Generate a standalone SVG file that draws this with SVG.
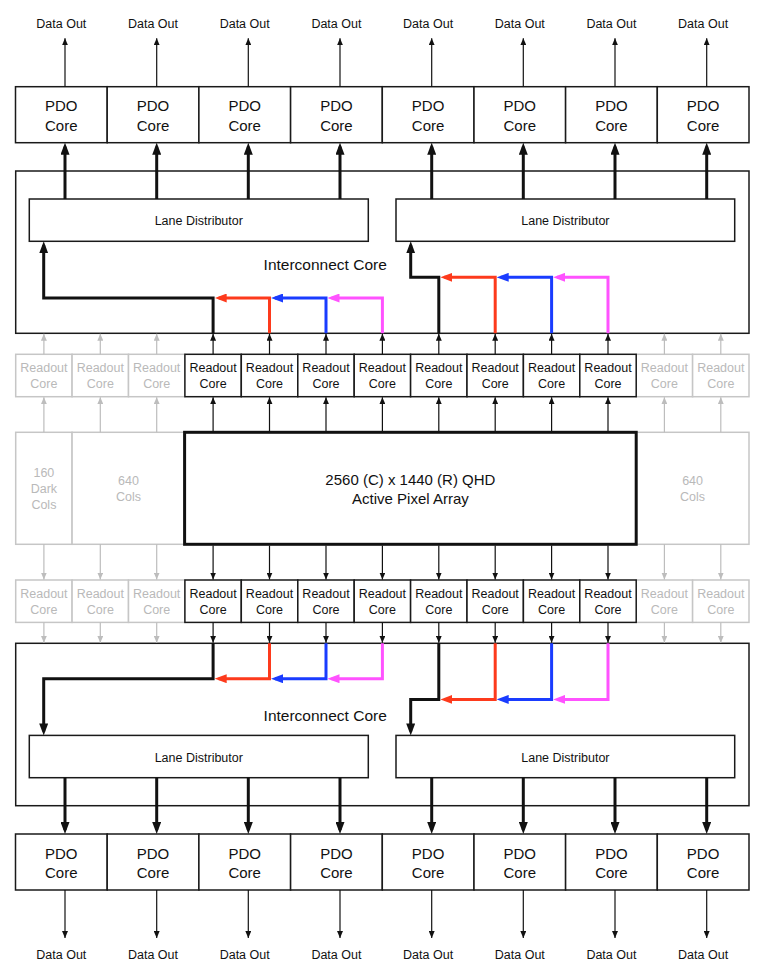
<svg xmlns="http://www.w3.org/2000/svg" width="770" height="975" viewBox="0 0 770 975">
<style>
text{font-family:"Liberation Sans",Arial,Helvetica,sans-serif;fill:#111;text-anchor:middle}
.box{fill:#fff;stroke:#1a1a1a;stroke-width:1.5}
.gbox{fill:#fff;stroke:#c6c6c6;stroke-width:1.5}
.arr{fill:#fff;stroke:#111;stroke-width:3}
.t15{font-size:15px}
.t12{font-size:12.5px}
.t16{font-size:15.5px}
.g{fill:#b9b9b9}
.thin{stroke:#111;stroke-width:1.2;fill:none;marker-end:url(#mThin)}
.gthin{stroke:#bdbdbd;stroke-width:1.2;fill:none;marker-end:url(#mGray)}
.thick{stroke:#111;stroke-width:3;fill:none;marker-end:url(#mThick)}
.route{fill:none;stroke-width:3;stroke-linejoin:miter}
</style>
<defs>
<marker id="mThin" markerUnits="userSpaceOnUse" markerWidth="7" markerHeight="6" viewBox="0 0 7 6" refX="7" refY="3" orient="auto"><path d="M0,0 L7,3 L0,6 z" fill="#111"/></marker>
<marker id="mGray" markerUnits="userSpaceOnUse" markerWidth="7" markerHeight="6" viewBox="0 0 7 6" refX="7" refY="3" orient="auto"><path d="M0,0 L7,3 L0,6 z" fill="#bdbdbd"/></marker>
<marker id="mThick" markerUnits="userSpaceOnUse" markerWidth="12" markerHeight="9" viewBox="0 0 12 9" refX="8" refY="4.5" orient="auto"><path d="M0,0 L12,4.5 L0,9 z" fill="#111"/></marker>
<marker id="mRed" markerUnits="userSpaceOnUse" markerWidth="12" markerHeight="9" viewBox="0 0 12 9" refX="8" refY="4.5" orient="auto"><path d="M0,0 L12,4.5 L0,9 z" fill="#fd3a1c"/></marker>
<marker id="mBlue" markerUnits="userSpaceOnUse" markerWidth="12" markerHeight="9" viewBox="0 0 12 9" refX="8" refY="4.5" orient="auto"><path d="M0,0 L12,4.5 L0,9 z" fill="#1a3cff"/></marker>
<marker id="mMag" markerUnits="userSpaceOnUse" markerWidth="12" markerHeight="9" viewBox="0 0 12 9" refX="8" refY="4.5" orient="auto"><path d="M0,0 L12,4.5 L0,9 z" fill="#ff52ff"/></marker>
</defs>
<rect width="770" height="975" fill="#fff"/>

<!-- Top Data Out labels -->
<g id="dataout-top">
<text class="t12" x="61.3" y="28">Data Out</text>
<text class="t12" x="153" y="28">Data Out</text>
<text class="t12" x="244.7" y="28">Data Out</text>
<text class="t12" x="336.4" y="28">Data Out</text>
<text class="t12" x="428.1" y="28">Data Out</text>
<text class="t12" x="519.8" y="28">Data Out</text>
<text class="t12" x="611.4" y="28">Data Out</text>
<text class="t12" x="703.1" y="28">Data Out</text>
</g>

<!-- Top PDO cores -->
<g id="pdo-top">
<rect class="box" x="15.5" y="86.7" width="91.7" height="56"/>
<rect class="box" x="107.2" y="86.7" width="91.7" height="56"/>
<rect class="box" x="198.9" y="86.7" width="91.7" height="56"/>
<rect class="box" x="290.6" y="86.7" width="91.7" height="56"/>
<rect class="box" x="382.3" y="86.7" width="91.7" height="56"/>
<rect class="box" x="474" y="86.7" width="91.6" height="56"/>
<rect class="box" x="565.6" y="86.7" width="91.7" height="56"/>
<rect class="box" x="657.3" y="86.7" width="91.7" height="56"/>
<g class="t15">
<text x="61.3" y="111.2">PDO</text><text x="61.3" y="130.6">Core</text>
<text x="153" y="111.2">PDO</text><text x="153" y="130.6">Core</text>
<text x="244.7" y="111.2">PDO</text><text x="244.7" y="130.6">Core</text>
<text x="336.4" y="111.2">PDO</text><text x="336.4" y="130.6">Core</text>
<text x="428.1" y="111.2">PDO</text><text x="428.1" y="130.6">Core</text>
<text x="519.8" y="111.2">PDO</text><text x="519.8" y="130.6">Core</text>
<text x="611.4" y="111.2">PDO</text><text x="611.4" y="130.6">Core</text>
<text x="703.1" y="111.2">PDO</text><text x="703.1" y="130.6">Core</text>
</g>
</g>

<!-- Top interconnect core -->
<g id="interconnect-top">
<rect class="box" x="15.7" y="171" width="733.3" height="162.3"/>
<text class="t16" x="325.2" y="269.5">Interconnect Core</text>
</g>
<g id="lane-top-left">
<rect class="box" x="29.3" y="199" width="339" height="42.3"/>
<text class="t12" x="198.8" y="225">Lane Distributor</text>
</g>
<g id="lane-top-right">
<rect class="box" x="396" y="199" width="338.7" height="42.3"/>
<text class="t12" x="565.4" y="225">Lane Distributor</text>
</g>

<!-- Top readout cores -->
<g id="readout-top">
<rect class="gbox" x="15.7" y="354.3" width="56.4" height="42.4"/>
<rect class="gbox" x="72.1" y="354.3" width="56.4" height="42.4"/>
<rect class="gbox" x="128.5" y="354.3" width="56.4" height="42.4"/>
<rect class="gbox" x="636.2" y="354.3" width="56.4" height="42.4"/>
<rect class="gbox" x="692.6" y="354.3" width="56.4" height="42.4"/>
<rect class="box" x="184.9" y="354.3" width="56.4" height="42.4"/>
<rect class="box" x="241.3" y="354.3" width="56.5" height="42.4"/>
<rect class="box" x="297.8" y="354.3" width="56.4" height="42.4"/>
<rect class="box" x="354.2" y="354.3" width="56.4" height="42.4"/>
<rect class="box" x="410.6" y="354.3" width="56.4" height="42.4"/>
<rect class="box" x="467" y="354.3" width="56.4" height="42.4"/>
<rect class="box" x="523.4" y="354.3" width="56.4" height="42.4"/>
<rect class="box" x="579.8" y="354.3" width="56.4" height="42.4"/>
<g class="t12">
<text class="g" x="43.9" y="372.2">Readout</text><text class="g" x="43.9" y="388">Core</text>
<text class="g" x="100.3" y="372.2">Readout</text><text class="g" x="100.3" y="388">Core</text>
<text class="g" x="156.7" y="372.2">Readout</text><text class="g" x="156.7" y="388">Core</text>
<text x="213.1" y="372.2">Readout</text><text x="213.1" y="388">Core</text>
<text x="269.5" y="372.2">Readout</text><text x="269.5" y="388">Core</text>
<text x="326" y="372.2">Readout</text><text x="326" y="388">Core</text>
<text x="382.4" y="372.2">Readout</text><text x="382.4" y="388">Core</text>
<text x="438.8" y="372.2">Readout</text><text x="438.8" y="388">Core</text>
<text x="495.2" y="372.2">Readout</text><text x="495.2" y="388">Core</text>
<text x="551.6" y="372.2">Readout</text><text x="551.6" y="388">Core</text>
<text x="608" y="372.2">Readout</text><text x="608" y="388">Core</text>
<text class="g" x="664.4" y="372.2">Readout</text><text class="g" x="664.4" y="388">Core</text>
<text class="g" x="720.8" y="372.2">Readout</text><text class="g" x="720.8" y="388">Core</text>
</g>
</g>

<!-- Pixel array -->
<g id="dark-cols">
<rect class="gbox" x="15.7" y="432.3" width="56.4" height="112"/>
<g class="t12"><text class="g" x="43.9" y="477">160</text><text class="g" x="43.9" y="493.4">Dark</text><text class="g" x="43.9" y="509.4">Cols</text></g>
</g>
<g id="cols-left">
<rect class="gbox" x="72.1" y="432.3" width="112.8" height="112"/>
<g class="t12"><text class="g" x="128.5" y="485">640</text><text class="g" x="128.5" y="501">Cols</text></g>
</g>
<g id="cols-right">
<rect class="gbox" x="636.2" y="432.3" width="112.8" height="112"/>
<g class="t12"><text class="g" x="692.6" y="485">640</text><text class="g" x="692.6" y="501">Cols</text></g>
</g>
<g id="pixel-array">
<rect class="arr" x="184.6" y="432.3" width="451.6" height="112"/>
<text class="t15" x="410.4" y="485.3">2560 (C) x 1440 (R) QHD</text>
<text class="t15" x="410.4" y="504.3">Active Pixel Array</text>
</g>

<!-- Bottom readout cores -->
<g id="readout-bottom">
<rect class="gbox" x="15.7" y="580" width="56.4" height="42.4"/>
<rect class="gbox" x="72.1" y="580" width="56.4" height="42.4"/>
<rect class="gbox" x="128.5" y="580" width="56.4" height="42.4"/>
<rect class="gbox" x="636.2" y="580" width="56.4" height="42.4"/>
<rect class="gbox" x="692.6" y="580" width="56.4" height="42.4"/>
<rect class="box" x="184.9" y="580" width="56.4" height="42.4"/>
<rect class="box" x="241.3" y="580" width="56.5" height="42.4"/>
<rect class="box" x="297.8" y="580" width="56.4" height="42.4"/>
<rect class="box" x="354.2" y="580" width="56.4" height="42.4"/>
<rect class="box" x="410.6" y="580" width="56.4" height="42.4"/>
<rect class="box" x="467" y="580" width="56.4" height="42.4"/>
<rect class="box" x="523.4" y="580" width="56.4" height="42.4"/>
<rect class="box" x="579.8" y="580" width="56.4" height="42.4"/>
<g class="t12">
<text class="g" x="43.9" y="597.8">Readout</text><text class="g" x="43.9" y="613.6">Core</text>
<text class="g" x="100.3" y="597.8">Readout</text><text class="g" x="100.3" y="613.6">Core</text>
<text class="g" x="156.7" y="597.8">Readout</text><text class="g" x="156.7" y="613.6">Core</text>
<text x="213.1" y="597.8">Readout</text><text x="213.1" y="613.6">Core</text>
<text x="269.5" y="597.8">Readout</text><text x="269.5" y="613.6">Core</text>
<text x="326" y="597.8">Readout</text><text x="326" y="613.6">Core</text>
<text x="382.4" y="597.8">Readout</text><text x="382.4" y="613.6">Core</text>
<text x="438.8" y="597.8">Readout</text><text x="438.8" y="613.6">Core</text>
<text x="495.2" y="597.8">Readout</text><text x="495.2" y="613.6">Core</text>
<text x="551.6" y="597.8">Readout</text><text x="551.6" y="613.6">Core</text>
<text x="608" y="597.8">Readout</text><text x="608" y="613.6">Core</text>
<text class="g" x="664.4" y="597.8">Readout</text><text class="g" x="664.4" y="613.6">Core</text>
<text class="g" x="720.8" y="597.8">Readout</text><text class="g" x="720.8" y="613.6">Core</text>
</g>
</g>

<!-- Bottom interconnect core -->
<g id="interconnect-bottom">
<rect class="box" x="15.7" y="643.3" width="733.3" height="162.4"/>
<text class="t16" x="325.2" y="720.8">Interconnect Core</text>
</g>
<g id="lane-bottom-left">
<rect class="box" x="29.3" y="735.4" width="339" height="42.3"/>
<text class="t12" x="198.8" y="761.5">Lane Distributor</text>
</g>
<g id="lane-bottom-right">
<rect class="box" x="396" y="735.4" width="338.7" height="42.3"/>
<text class="t12" x="565.4" y="761.5">Lane Distributor</text>
</g>

<!-- Bottom PDO cores -->
<g id="pdo-bottom">
<rect class="box" x="15.5" y="834" width="91.7" height="56"/>
<rect class="box" x="107.2" y="834" width="91.7" height="56"/>
<rect class="box" x="198.9" y="834" width="91.7" height="56"/>
<rect class="box" x="290.6" y="834" width="91.7" height="56"/>
<rect class="box" x="382.3" y="834" width="91.7" height="56"/>
<rect class="box" x="474" y="834" width="91.6" height="56"/>
<rect class="box" x="565.6" y="834" width="91.7" height="56"/>
<rect class="box" x="657.3" y="834" width="91.7" height="56"/>
<g class="t15">
<text x="61.3" y="858.7">PDO</text><text x="61.3" y="878">Core</text>
<text x="153" y="858.7">PDO</text><text x="153" y="878">Core</text>
<text x="244.7" y="858.7">PDO</text><text x="244.7" y="878">Core</text>
<text x="336.4" y="858.7">PDO</text><text x="336.4" y="878">Core</text>
<text x="428.1" y="858.7">PDO</text><text x="428.1" y="878">Core</text>
<text x="519.8" y="858.7">PDO</text><text x="519.8" y="878">Core</text>
<text x="611.4" y="858.7">PDO</text><text x="611.4" y="878">Core</text>
<text x="703.1" y="858.7">PDO</text><text x="703.1" y="878">Core</text>
</g>
</g>

<g id="dataout-bottom">
<text class="t12" x="61.3" y="958.8">Data Out</text>
<text class="t12" x="153" y="958.8">Data Out</text>
<text class="t12" x="244.7" y="958.8">Data Out</text>
<text class="t12" x="336.4" y="958.8">Data Out</text>
<text class="t12" x="428.1" y="958.8">Data Out</text>
<text class="t12" x="519.8" y="958.8">Data Out</text>
<text class="t12" x="611.4" y="958.8">Data Out</text>
<text class="t12" x="703.1" y="958.8">Data Out</text>
</g>

<!-- Connectors -->
<g id="connectors">
<!-- PDO -> Data Out (top) -->
<path class="thin" d="M65,86.7 V38.3"/>
<path class="thin" d="M156.7,86.7 V38.3"/>
<path class="thin" d="M248.3,86.7 V38.3"/>
<path class="thin" d="M340,86.7 V38.3"/>
<path class="thin" d="M431.7,86.7 V38.3"/>
<path class="thin" d="M523.3,86.7 V38.3"/>
<path class="thin" d="M615,86.7 V38.3"/>
<path class="thin" d="M706.7,86.7 V38.3"/>
<!-- Lane -> PDO (top) -->
<path class="thick" d="M65,199 V146.7"/>
<path class="thick" d="M156.7,199 V146.7"/>
<path class="thick" d="M248.3,199 V146.7"/>
<path class="thick" d="M340,199 V146.7"/>
<path class="thick" d="M431.7,199 V146.7"/>
<path class="thick" d="M523.3,199 V146.7"/>
<path class="thick" d="M615,199 V146.7"/>
<path class="thick" d="M706.7,199 V146.7"/>
<!-- Top routing -->
<path class="route" stroke="#111" marker-end="url(#mThick)" d="M213.1,333.3 V298 H43.7 V245.3"/>
<path class="route" stroke="#fd3a1c" marker-end="url(#mRed)" d="M269.5,333.3 V298 H218.7"/>
<path class="route" stroke="#1a3cff" marker-end="url(#mBlue)" d="M326,333.3 V298 H275"/>
<path class="route" stroke="#ff52ff" marker-end="url(#mMag)" d="M382.4,333.3 V298 H331.5"/>
<path class="route" stroke="#111" marker-end="url(#mThick)" d="M438.8,333.3 V277.3 H410.7 V245.3"/>
<path class="route" stroke="#fd3a1c" marker-end="url(#mRed)" d="M495.2,333.3 V277.3 H444.4"/>
<path class="route" stroke="#1a3cff" marker-end="url(#mBlue)" d="M551.6,333.3 V277.3 H500.7"/>
<path class="route" stroke="#ff52ff" marker-end="url(#mMag)" d="M608,333.3 V277.3 H557.1"/>
<!-- Readout top -> interconnect -->
<path class="gthin" d="M43.9,354.3 V333.8"/>
<path class="gthin" d="M100.3,354.3 V333.8"/>
<path class="gthin" d="M156.7,354.3 V333.8"/>
<path class="thin" d="M213.1,354.3 V333.8"/>
<path class="thin" d="M269.5,354.3 V333.8"/>
<path class="thin" d="M326,354.3 V333.8"/>
<path class="thin" d="M382.4,354.3 V333.8"/>
<path class="thin" d="M438.8,354.3 V333.8"/>
<path class="thin" d="M495.2,354.3 V333.8"/>
<path class="thin" d="M551.6,354.3 V333.8"/>
<path class="thin" d="M608,354.3 V333.8"/>
<path class="gthin" d="M664.4,354.3 V333.8"/>
<path class="gthin" d="M720.8,354.3 V333.8"/>
<!-- Array -> readout top -->
<path class="gthin" d="M43.9,432.3 V397.2"/>
<path class="gthin" d="M100.3,432.3 V397.2"/>
<path class="gthin" d="M156.7,432.3 V397.2"/>
<path class="thin" d="M213.1,431 V397.2"/>
<path class="thin" d="M269.5,431 V397.2"/>
<path class="thin" d="M326,431 V397.2"/>
<path class="thin" d="M382.4,431 V397.2"/>
<path class="thin" d="M438.8,431 V397.2"/>
<path class="thin" d="M495.2,431 V397.2"/>
<path class="thin" d="M551.6,431 V397.2"/>
<path class="thin" d="M608,431 V397.2"/>
<path class="gthin" d="M664.4,432.3 V397.2"/>
<path class="gthin" d="M720.8,432.3 V397.2"/>
<!-- Array -> readout bottom -->
<path class="gthin" d="M43.9,544.3 V579.5"/>
<path class="gthin" d="M100.3,544.3 V579.5"/>
<path class="gthin" d="M156.7,544.3 V579.5"/>
<path class="thin" d="M213.1,545.6 V579.5"/>
<path class="thin" d="M269.5,545.6 V579.5"/>
<path class="thin" d="M326,545.6 V579.5"/>
<path class="thin" d="M382.4,545.6 V579.5"/>
<path class="thin" d="M438.8,545.6 V579.5"/>
<path class="thin" d="M495.2,545.6 V579.5"/>
<path class="thin" d="M551.6,545.6 V579.5"/>
<path class="thin" d="M608,545.6 V579.5"/>
<path class="gthin" d="M664.4,544.3 V579.5"/>
<path class="gthin" d="M720.8,544.3 V579.5"/>
<!-- Readout bottom -> interconnect -->
<path class="gthin" d="M43.9,622.4 V642.8"/>
<path class="gthin" d="M100.3,622.4 V642.8"/>
<path class="gthin" d="M156.7,622.4 V642.8"/>
<path class="thin" d="M213.1,622.4 V642.8"/>
<path class="thin" d="M269.5,622.4 V642.8"/>
<path class="thin" d="M326,622.4 V642.8"/>
<path class="thin" d="M382.4,622.4 V642.8"/>
<path class="thin" d="M438.8,622.4 V642.8"/>
<path class="thin" d="M495.2,622.4 V642.8"/>
<path class="thin" d="M551.6,622.4 V642.8"/>
<path class="thin" d="M608,622.4 V642.8"/>
<path class="gthin" d="M664.4,622.4 V642.8"/>
<path class="gthin" d="M720.8,622.4 V642.8"/>
<!-- Bottom routing -->
<path class="route" stroke="#111" marker-end="url(#mThick)" d="M213.1,643.3 V678.7 H43.7 V731.4"/>
<path class="route" stroke="#fd3a1c" marker-end="url(#mRed)" d="M269.5,643.3 V678.7 H218.7"/>
<path class="route" stroke="#1a3cff" marker-end="url(#mBlue)" d="M326,643.3 V678.7 H275"/>
<path class="route" stroke="#ff52ff" marker-end="url(#mMag)" d="M382.4,643.3 V678.7 H331.5"/>
<path class="route" stroke="#111" marker-end="url(#mThick)" d="M438.8,643.3 V699.4 H410.7 V731.4"/>
<path class="route" stroke="#fd3a1c" marker-end="url(#mRed)" d="M495.2,643.3 V699.4 H444.4"/>
<path class="route" stroke="#1a3cff" marker-end="url(#mBlue)" d="M551.6,643.3 V699.4 H500.7"/>
<path class="route" stroke="#ff52ff" marker-end="url(#mMag)" d="M608,643.3 V699.4 H557.1"/>
<!-- Lane -> PDO (bottom) -->
<path class="thick" d="M65,777.7 V830"/>
<path class="thick" d="M156.7,777.7 V830"/>
<path class="thick" d="M248.3,777.7 V830"/>
<path class="thick" d="M340,777.7 V830"/>
<path class="thick" d="M431.7,777.7 V830"/>
<path class="thick" d="M523.3,777.7 V830"/>
<path class="thick" d="M615,777.7 V830"/>
<path class="thick" d="M706.7,777.7 V830"/>
<!-- PDO -> Data Out (bottom) -->
<path class="thin" d="M65,890 V938"/>
<path class="thin" d="M156.7,890 V938"/>
<path class="thin" d="M248.3,890 V938"/>
<path class="thin" d="M340,890 V938"/>
<path class="thin" d="M431.7,890 V938"/>
<path class="thin" d="M523.3,890 V938"/>
<path class="thin" d="M615,890 V938"/>
<path class="thin" d="M706.7,890 V938"/>
</g>
</svg>
